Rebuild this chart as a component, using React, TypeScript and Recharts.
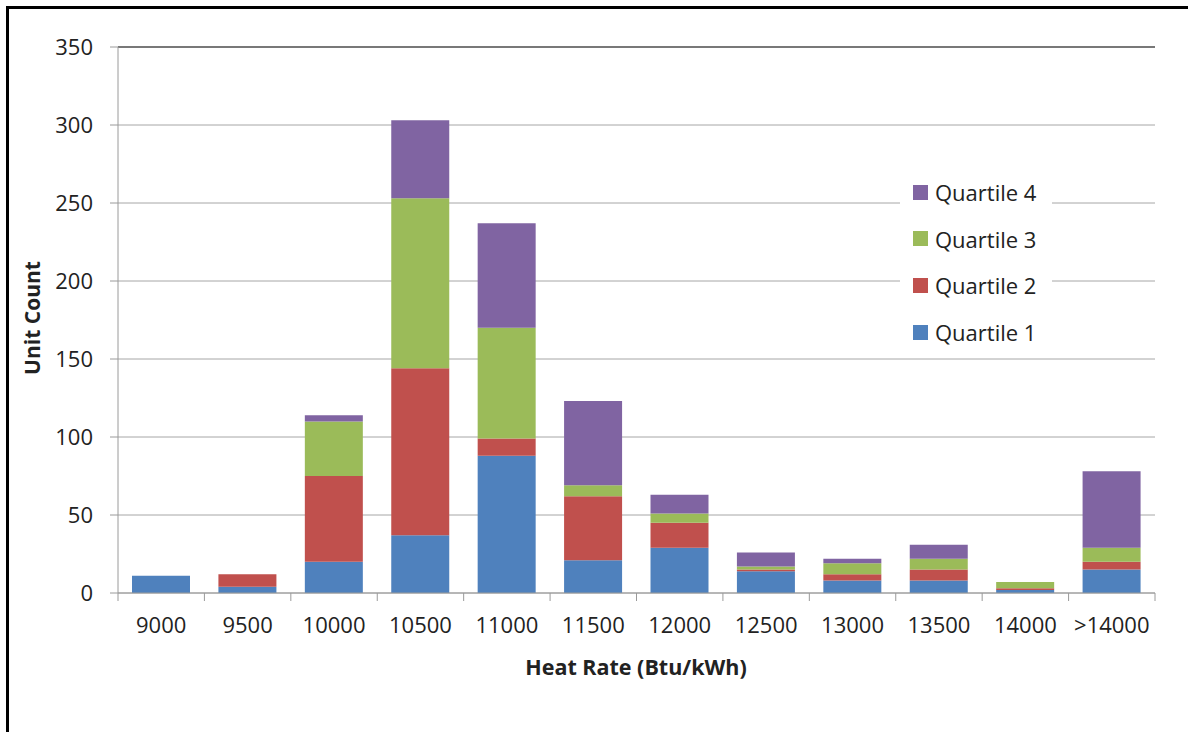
import React from "react";
import {
  BarChart,
  Bar,
  XAxis,
  YAxis,
  CartesianGrid,
  ReferenceLine,
  Label,
} from "recharts";

// Unit counts by heat-rate bin, split by quartile
const heatRates = [
  "9000",
  "9500",
  "10000",
  "10500",
  "11000",
  "11500",
  "12000",
  "12500",
  "13000",
  "13500",
  "14000",
  ">14000",
];
const quartile1 = [11, 4, 20, 37, 88, 21, 29, 14, 8, 8, 2, 15];
const quartile2 = [0, 8, 55, 107, 11, 41, 16, 1, 4, 7, 1, 5];
const quartile3 = [0, 0, 35, 109, 71, 7, 6, 2, 7, 7, 4, 9];
const quartile4 = [0, 0, 4, 50, 67, 54, 12, 9, 3, 9, 0, 49];
const yTicks = [0, 50, 100, 150, 200, 250, 300, 350];

const series = [
  { key: "q1", name: "Quartile 1", color: "#4F81BD" },
  { key: "q2", name: "Quartile 2", color: "#C0504D" },
  { key: "q3", name: "Quartile 3", color: "#9BBB59" },
  { key: "q4", name: "Quartile 4", color: "#8064A2" },
];

const data = heatRates.map((name, i) => ({
  name,
  q1: quartile1[i],
  q2: quartile2[i],
  q3: quartile3[i],
  q4: quartile4[i],
}));

const FONT = "'Open Sans', 'Noto Sans', sans-serif";
const TEXT = "#222";
const AXIS = "#9a9a9a";

const WIDTH = 1188;
const HEIGHT = 732;
const PLOT_LEFT = 118;
const PLOT_RIGHT = 1155;
const PLOT_TOP = 47;
const PLOT_BOTTOM = 593;
const Y_AXIS_W = 60;
const X_AXIS_H = 40;
const halfBand = (PLOT_RIGHT - PLOT_LEFT) / heatRates.length / 2;

// Category labels centred under bars, tick marks on the bin boundaries
function HeatRateTick(props: any) {
  const { x, y, payload, index } = props;
  const last = index === heatRates.length - 1;
  return (
    <g>
      <line
        x1={x - halfBand}
        x2={x - halfBand}
        y1={y}
        y2={y + 8}
        stroke={AXIS}
      />
      {last && (
        <line
          x1={x + halfBand}
          x2={x + halfBand}
          y1={y}
          y2={y + 8}
          stroke={AXIS}
        />
      )}
      <text
        x={x}
        y={y + 40}
        textAnchor="middle"
        fill={TEXT}
        fontSize={22}
        fontFamily={FONT}
      >
        {payload.value}
      </text>
    </g>
  );
}

function QuartileLegend() {
  const rows = [...series].reverse();
  const centers = [192, 238.5, 285, 332];
  return (
    <div
      style={{
        position: "absolute",
        left: 900,
        top: 172,
        width: 152,
        height: 182,
        background: "#fff",
      }}
    >
      {rows.map((s, i) => (
        <div
          key={s.key}
          style={{
            position: "absolute",
            left: 13,
            top: centers[i] - 172 - 15,
            height: 30,
            display: "flex",
            alignItems: "center",
            fontFamily: FONT,
            fontSize: 22,
            color: TEXT,
            whiteSpace: "nowrap",
          }}
        >
          <span
            style={{
              width: 15,
              height: 15,
              background: s.color,
              marginRight: 7,
              display: "inline-block",
            }}
          />
          {s.name}
        </div>
      ))}
    </div>
  );
}

export default function App() {
  return (
    <div
      style={{
        position: "fixed",
        left: 0,
        top: 0,
        width: WIDTH,
        height: HEIGHT,
        overflow: "hidden",
        background: "#fff",
      }}
    >
      <div
        style={{
          position: "absolute",
          left: 6,
          top: 6,
          width: 1400,
          height: 1000,
          border: "3px solid #000",
        }}
      />
      <div style={{ position: "absolute", left: 0, top: 0 }}>
        <BarChart
          width={WIDTH}
          height={HEIGHT}
          data={data}
          barSize={58}
          margin={{
            top: PLOT_TOP,
            right: WIDTH - PLOT_RIGHT,
            left: PLOT_LEFT - Y_AXIS_W,
            bottom: HEIGHT - PLOT_BOTTOM - X_AXIS_H,
          }}
        >
          <CartesianGrid vertical={false} stroke="#a6a6a6" />
          <XAxis
            dataKey="name"
            height={X_AXIS_H}
            interval={0}
            tickSize={0}
            tickMargin={0}
            tickLine={false}
            axisLine={{ stroke: AXIS }}
            tick={<HeatRateTick />}
          >
            <Label
              content={() => (
                <text
                  x={636}
                  y={675}
                  textAnchor="middle"
                  fontSize={21.5}
                  fontWeight="bold"
                  fontFamily={FONT}
                  fill={TEXT}
                >
                  Heat Rate (Btu/kWh)
                </text>
              )}
            />
          </XAxis>
          <YAxis
            width={Y_AXIS_W}
            domain={[0, 350]}
            ticks={yTicks}
            interval={0}
            tickSize={8}
            tickMargin={17}
            tickLine={{ stroke: AXIS }}
            axisLine={{ stroke: AXIS }}
            tick={{ fill: TEXT, fontSize: 22, fontFamily: FONT }}
          >
            <Label
              content={() => (
                <text
                  x={40}
                  y={318}
                  textAnchor="middle"
                  transform="rotate(-90 40 318)"
                  fontSize={21}
                  fontWeight="bold"
                  fontFamily={FONT}
                  fill={TEXT}
                >
                  Unit Count
                </text>
              )}
            />
          </YAxis>
          <YAxis
            yAxisId="frame"
            orientation="right"
            width={0}
            domain={[0, 350]}
            tick={false}
            tickLine={false}
            axisLine={{ stroke: "#404040", strokeWidth: 2 }}
          />
          <ReferenceLine y={350} stroke="#5a5a5a" strokeWidth={1.5} />
          {series.map((s) => (
            <Bar
              key={s.key}
              dataKey={s.key}
              name={s.name}
              stackId="units"
              fill={s.color}
              isAnimationActive={false}
            />
          ))}
        </BarChart>
      </div>
      <QuartileLegend />
    </div>
  );
}
